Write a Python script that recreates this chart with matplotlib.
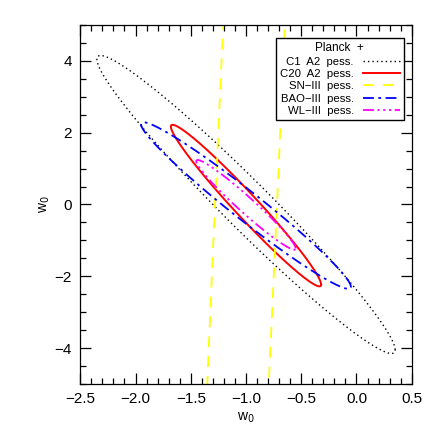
import numpy as np
from matplotlib import pyplot as plt

plt.rcParams['font.family'] = ['Liberation Sans', 'DejaVu Sans']

# ellipse parameters: centre, half extents in x and y, correlation
labels = ['C1  A2  pess.', 'C20  A2  pess.', 'SN\u2212III  pess.', 'BAO\u2212III  pess.', 'WL\u2212III  pess.']
cen_w0 = [-1.0, -1.0, -1.0, -1.0, -1.0]
cen_wa = [0.0, -0.03, 0.0, -0.03, -0.01]
ext_w0 = [1.35, 0.68, 0.644, 0.95, 0.45]
ext_wa = [4.15, 2.25, 40.0, 2.32, 1.25]
rho = [-0.975, -0.977, 0.9, -0.976, -0.972]

colors = ['black', 'red', 'yellow', 'blue', 'magenta']
styles = [(0, (1, 2.2)), '-', (0, (6, 5)), (0, (6, 2.5, 1.5, 2.5)), (0, (6, 2, 1.2, 2, 1.2, 2, 1.2, 2))]
widths = [1.0, 1.4, 1.3, 1.3, 1.3]

fig = plt.figure(figsize=(4.36, 4.36), dpi=100)
ax = fig.add_axes([80.3 / 436, 52 / 436, 331.4 / 436, 359 / 436])

t = np.linspace(0, 2 * np.pi, 721)
for i in range(len(labels)):
    x = cen_w0[i] + ext_w0[i] * np.cos(t)
    y = cen_wa[i] + ext_wa[i] * (rho[i] * np.cos(t) + np.sqrt(1 - rho[i] ** 2) * np.sin(t))
    ax.plot(x, y, color=colors[i], linestyle=styles[i], lw=widths[i], label=labels[i])

ax.set_xlim(-2.5, 0.5)
ax.set_ylim(-5, 5)
ax.set_xticks(np.arange(-2.5, 0.51, 0.5))
ax.set_xticks(np.arange(-2.5, 0.51, 0.1), minor=True)
ax.set_yticks([-4, -2, 0, 2, 4])
ax.set_yticks(np.arange(-5, 5.01, 0.5), minor=True)
ax.tick_params(which='both', direction='in', top=True, right=True, labelsize=11, width=0.9)
ax.tick_params(which='major', length=8, pad=6)
ax.tick_params(which='minor', length=4)
for s in ax.spines.values():
    s.set_linewidth(0.9)

ax.set_xlabel('w$_0$', fontsize=10, labelpad=3)
ax.set_ylabel('w$_0$', fontsize=10, labelpad=2)

leg = ax.legend(loc='upper right', title='Planck  +', fontsize=8.2, title_fontsize=8.5,
                markerfirst=False, frameon=True, fancybox=False, edgecolor='black',
                framealpha=1, handlelength=3.2, labelspacing=0.2, borderpad=0.4,
                borderaxespad=0, bbox_to_anchor=(0.977, 0.964))
leg.get_frame().set_linewidth(1.0)

fig.savefig('out.png', dpi=100)
